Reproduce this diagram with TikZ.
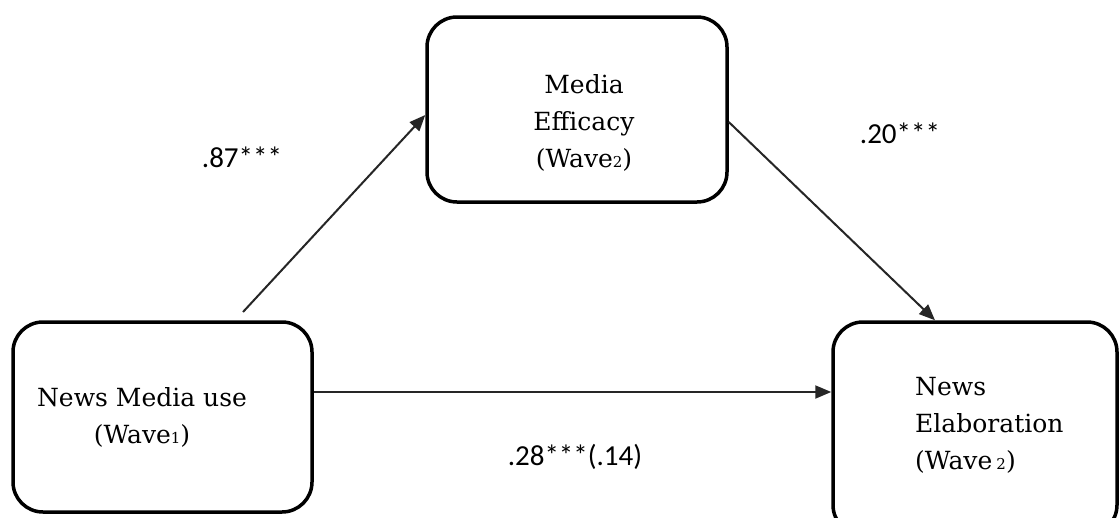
\documentclass[tikz,border=0pt]{standalone}
\usepackage{fontspec}
\setmainfont{DejaVu Serif}
\newfontfamily\coeffont{Carlito}
\usetikzlibrary{arrows.meta}
% small wave index set on the baseline
\newcommand\waveidx[1]{{\fontsize{15}{15}\selectfont #1}}

\begin{document}
\begin{tikzpicture}[x=1pt,y=-1pt,
  varbox/.style={draw, line width=3.5pt, rounded corners=30pt, inner sep=0pt},
  boxtext/.style={font=\fontsize{25}{37}\selectfont, inner sep=0pt, anchor=base},
  coef/.style={font=\coeffont\fontsize{29}{29}\selectfont, inner sep=0pt, anchor=base},
  link/.style={line width=2pt, draw=black!85, -{Triangle[length=16pt,width=13pt]}}]

\clip (0,0) rectangle (1119,517);
\fill[white] (0,0) rectangle (1119,517);

% variable boxes
\node[varbox, minimum width=299pt, minimum height=190pt] (use) at (162.5,417) {};
\node[varbox, minimum width=300pt, minimum height=185pt] (eff) at (577,109.5) {};
\node[varbox, minimum width=284pt, minimum height=213pt] (elab) at (975,428.5) {};

% box labels (anchored on the baseline of the last line)
\node[boxtext, align=center] (usetxt) at (142,443) {News Media use\\(Wave\waveidx{1})};
\node[boxtext, align=center] (efftxt) at (584,167) {Media\\Efficacy\\(Wave\waveidx{2})};
\node[boxtext, align=left, anchor=base west] (elabtxt) at (915,469) {News\\Elaboration\\(Wave\,\waveidx{2})};

% paths
\coordinate (start) at (243,312);
\draw[link] (start) -- (eff.west |- 0,115);
\draw[link] (eff.east |- 0,122) -- (935,0 |- elab.north);
\draw[link] (use.east |- 0,392) -- (elab.west |- 0,392);

% path coefficients
\node[coef] (c1) at (242,167) {.87***};
\node[coef] (c2) at (900,143) {.20***};
\node[coef] (c3) at (575,465) {.28***(.14)};
\end{tikzpicture}
\end{document}
